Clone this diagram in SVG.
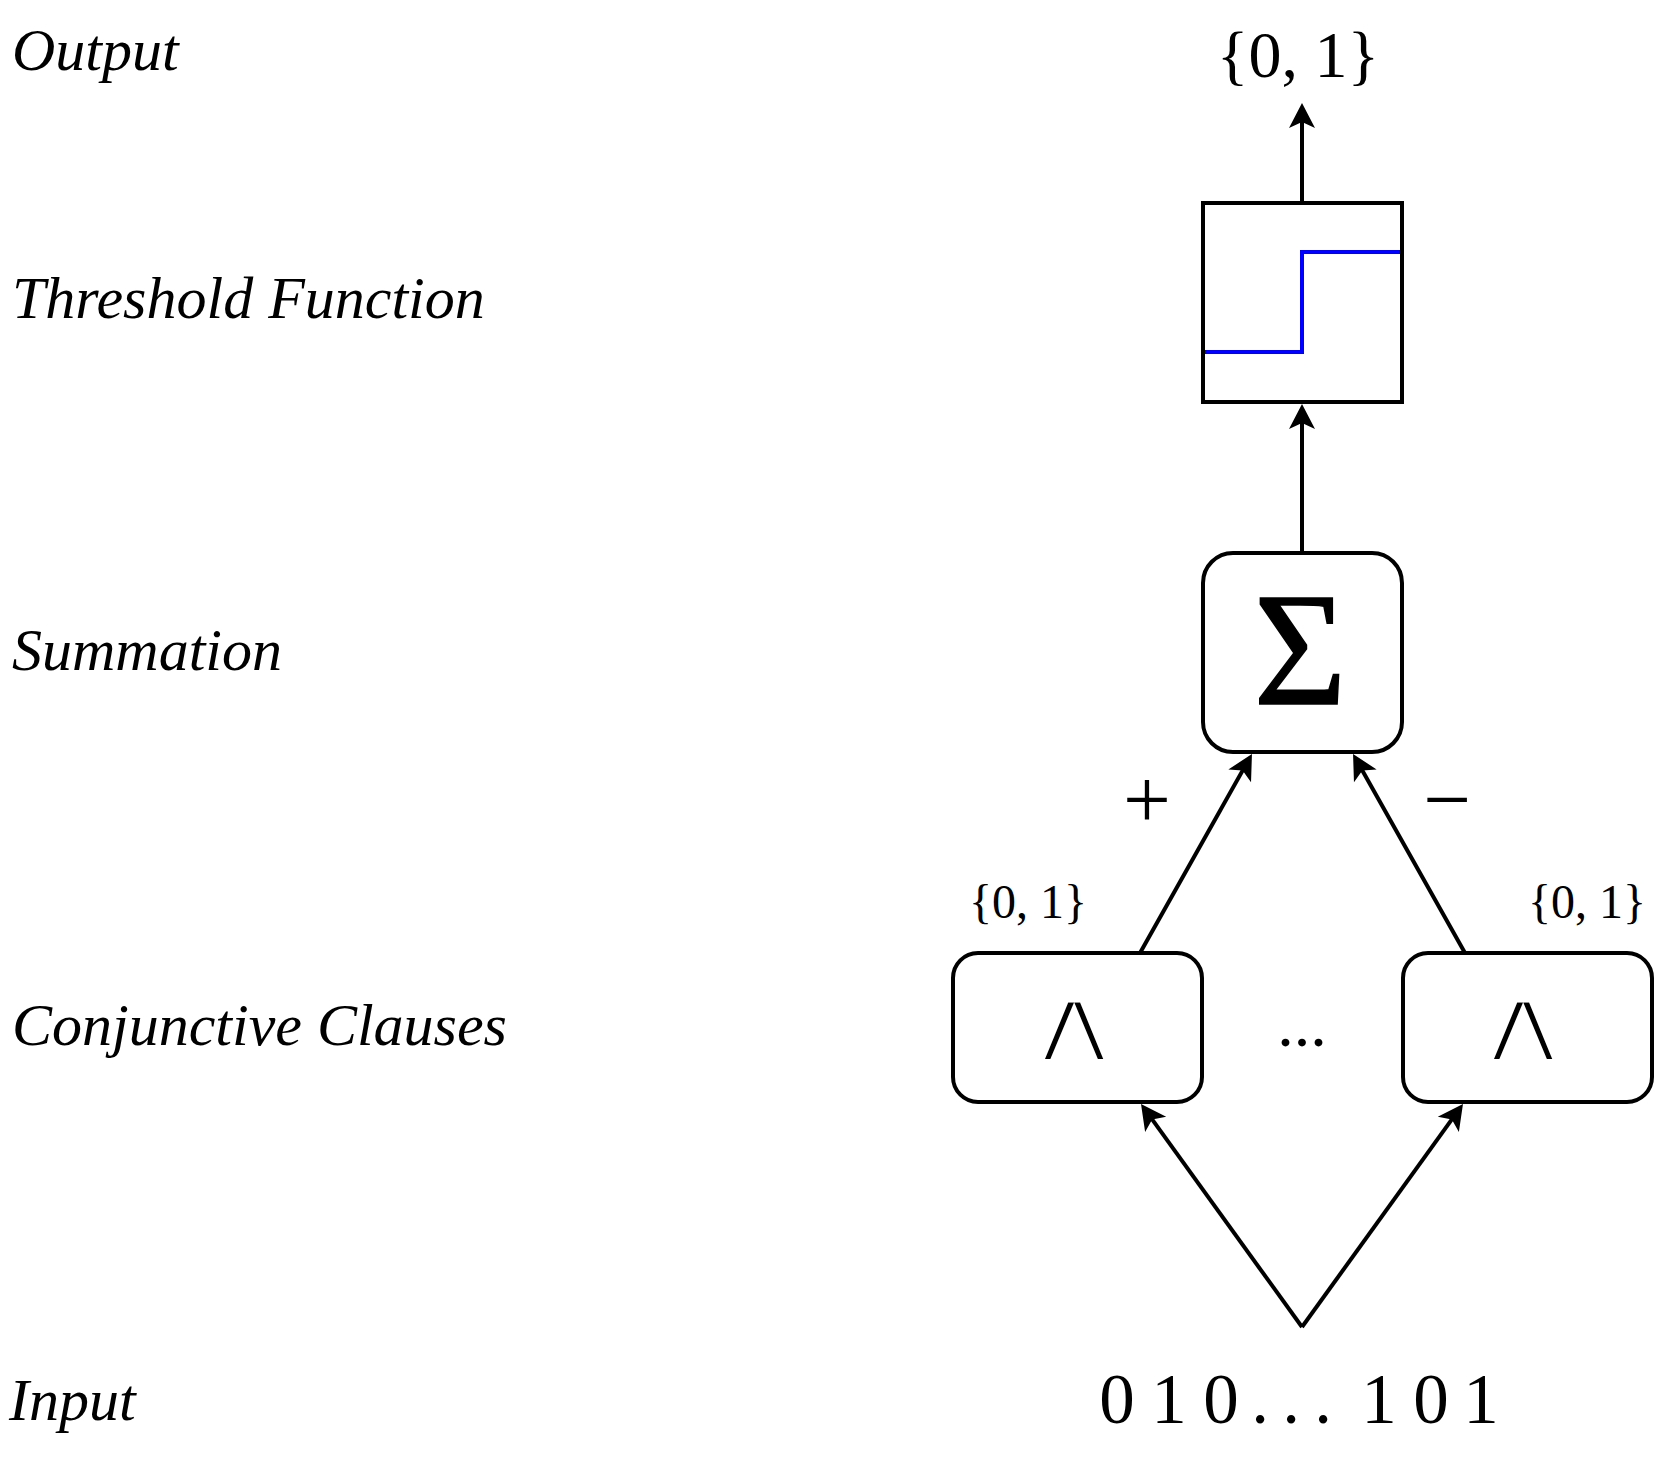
<svg xmlns="http://www.w3.org/2000/svg" width="1655" height="1475" viewBox="0 0 1655 1475">
<style>
.lbl{font-family:"Liberation Serif","Times New Roman",serif;font-style:italic;font-size:60px;fill:#000}
.math{font-family:"Liberation Serif","Times New Roman",serif;fill:#000}
.sym{font-family:"DejaVu Sans",sans-serif;font-size:108px;fill:#000;stroke:#fff;stroke-width:6;paint-order:fill stroke}
.box{fill:#fff;stroke:#000;stroke-width:4}
.edge{fill:none;stroke:#000;stroke-width:4;marker-end:url(#arr)}
</style>
<defs>
<marker id="arr" markerUnits="userSpaceOnUse" markerWidth="40" markerHeight="40" refX="0" refY="0" orient="auto" overflow="visible">
<path d="M15,0 L-10,-13 L-4,0 L-10,13 Z" fill="#000"/>
</marker>
</defs>
<rect width="1655" height="1475" fill="#fff"/>
<g id="layer-labels">
<text class="lbl" x="12" y="70">Output</text>
<text class="lbl" x="12" y="318">Threshold Function</text>
<text class="lbl" x="12" y="670">Summation</text>
<text class="lbl" x="12" y="1045">Conjunctive Clauses</text>
<text class="lbl" x="9" y="1420">Input</text>
</g>
<g id="connectors">
<line class="edge" x1="1302" y1="203" x2="1302" y2="118"/>
<line class="edge" x1="1302" y1="553" x2="1302" y2="419"/>
<line class="edge" x1="1140" y1="953" x2="1244.6" y2="767.1"/>
<line class="edge" x1="1465" y1="953" x2="1360.4" y2="767.1"/>
<line class="edge" x1="1302" y1="1327" x2="1149.8" y2="1116.2"/>
<line class="edge" x1="1302" y1="1327" x2="1454.2" y2="1116.2"/>
</g>
<g id="output">
<text class="math" x="1298" y="77" font-size="66" text-anchor="middle">{0, 1}</text>
</g>
<g id="threshold">
<rect class="box" x="1203" y="203" width="199" height="199"/>
<path d="M1205,352 L1302,352 L1302,252 L1400,252" fill="none" stroke="#0000ff" stroke-width="4"/>
</g>
<g id="summation">
<rect class="box" x="1203" y="553" width="199" height="199" rx="30" ry="30"/>
<text class="math" x="1300" y="704" font-size="160" text-anchor="middle" stroke="#000" stroke-width="1.5">Σ</text>
</g>
<g id="label-plus">
<text class="math" x="1147" y="828" font-size="85" text-anchor="middle">+</text>
</g>
<g id="label-minus">
<text class="math" x="1447" y="828" font-size="85" text-anchor="middle">−</text>
</g>
<g id="clause-left">
<rect class="box" x="953" y="953" width="249" height="149" rx="25" ry="25"/>
<text class="sym" transform="translate(1074,1062) scale(1.35,1)" x="0" y="0" text-anchor="middle">∧</text>
<text class="math" x="1028" y="918" font-size="48" text-anchor="middle">{0, 1}</text>
</g>
<g id="dots">
<text class="math" x="1302" y="1046" font-size="66" text-anchor="middle">...</text>
</g>
<g id="clause-right">
<rect class="box" x="1403" y="953" width="249" height="149" rx="25" ry="25"/>
<text class="sym" transform="translate(1523,1062) scale(1.35,1)" x="0" y="0" text-anchor="middle">∧</text>
<text class="math" x="1587" y="918" font-size="48" text-anchor="middle">{0, 1}</text>
</g>
<g id="input">
<text class="math" font-size="71" text-anchor="middle" x="1117 1169 1221 1260 1291 1323 1379 1431 1481" y="1423">010...101</text>
</g>
</svg>
